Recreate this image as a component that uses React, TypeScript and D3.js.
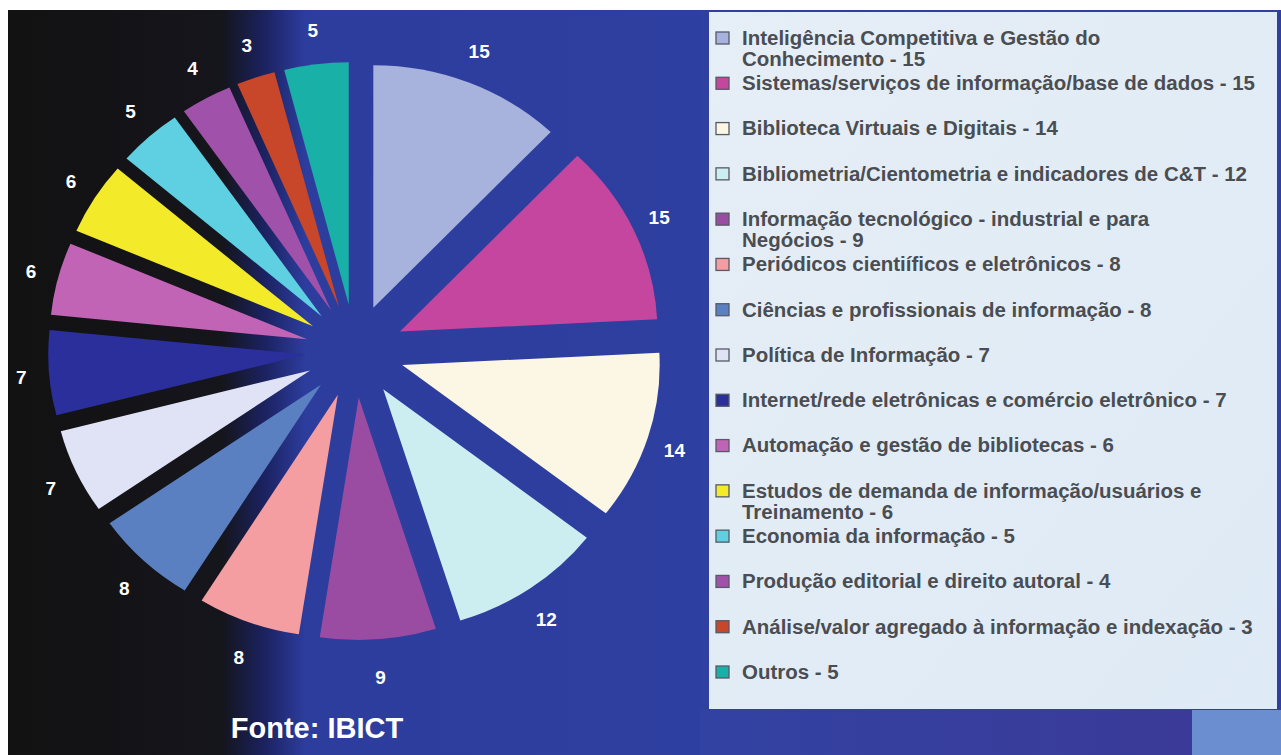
import React from "react";
import * as d3 from "d3";

const categories = [
  "Inteligência Competitiva e Gestão do Conhecimento",
  "Sistemas/serviços de informação/base de dados",
  "Biblioteca Virtuais e Digitais",
  "Bibliometria/Cientometria e indicadores de C&T",
  "Informação tecnológico - industrial e para Negócios",
  "Periódicos cientiíficos e eletrônicos",
  "Ciências e profissionais de informação",
  "Política de Informação",
  "Internet/rede eletrônicas e comércio eletrônico",
  "Automação e gestão de bibliotecas",
  "Estudos de demanda de informação/usuários e Treinamento",
  "Economia da informação",
  "Produção editorial e direito autoral",
  "Análise/valor agregado à informação e indexação",
  "Outros",
];
const values = [15, 15, 14, 12, 9, 8, 8, 7, 7, 6, 6, 5, 4, 3, 5];
// legend text lines (with explicit wraps as in the original)
const legendLines = [
  ["Inteligência Competitiva e Gestão do", "Conhecimento - 15"],
  ["Sistemas/serviços de informação/base de dados - 15"],
  ["Biblioteca Virtuais e Digitais - 14"],
  ["Bibliometria/Cientometria e indicadores de C&T - 12"],
  ["Informação tecnológico - industrial e para", "Negócios - 9"],
  ["Periódicos cientiíficos e eletrônicos - 8"],
  ["Ciências e profissionais de informação - 8"],
  ["Política de Informação - 7"],
  ["Internet/rede eletrônicas e comércio eletrônico - 7"],
  ["Automação e gestão de bibliotecas - 6"],
  ["Estudos de demanda de informação/usuários e", "Treinamento - 6"],
  ["Economia da informação - 5"],
  ["Produção editorial e direito autoral - 4"],
  ["Análise/valor agregado à informação e indexação - 3"],
  ["Outros - 5"],
];
const colors = [
  "#a7b2dd", "#c4469e", "#fbf7e4", "#cdeef0", "#9a4ca2",
  "#f59ea2", "#5a80c2", "#dfe3f5", "#2b2f9c", "#c264b6",
  "#f3ea2a", "#5ed0e2", "#a052aa", "#c8472a", "#19b0a8",
];
const source = "Fonte: IBICT";

export default function App() {
  const W = 1281, H = 755;
  const cx = 355, cy = 351, R = 250, explode = 48;
  const sx = 1.03, sy = 0.97;
  const labelCy = 353, labelR = 325;
  const pie = d3.pie<number>().sort(null).value((d) => d).startAngle(0).endAngle(2 * Math.PI);
  const arcs = pie(values);
  const arc = d3.arc<d3.PieArcDatum<number>>().innerRadius(0).outerRadius(R);
  const legendY = d3.scaleLinear().domain([0, 14]).range([38, 672]);
  const font = "'Liberation Sans', Arial, sans-serif";

  return (
    <svg width={W} height={H} style={{ position: "absolute", left: 0, top: 0, display: "block" }}>
      <defs>
        <linearGradient id="bgLeft" x1="0" y1="0" x2="1" y2="0" gradientUnits="objectBoundingBox">
          <stop offset="0" stopColor="#121212" />
          <stop offset="0.31" stopColor="#15151c" />
          <stop offset="0.37" stopColor="#1b2260" />
          <stop offset="0.43" stopColor="#2d3d9e" />
          <stop offset="1" stopColor="#2d3fa0" />
        </linearGradient>
        <linearGradient id="bgBottom" x1="0" y1="0" x2="1" y2="0">
          <stop offset="0" stopColor="#3242a2" />
          <stop offset="1" stopColor="#3b3a98" />
        </linearGradient>
        <linearGradient id="legendBg" x1="0" y1="0" x2="1" y2="1">
          <stop offset="0" stopColor="#e6eef6" />
          <stop offset="1" stopColor="#deeaf5" />
        </linearGradient>
      </defs>
      <rect x={0} y={0} width={W} height={H} fill="#ffffff" />
      <rect x={8} y={10} width={W - 8} height={H - 10} fill="#2d3fa0" />
      <rect x={8} y={10} width={692} height={H - 10} fill="url(#bgLeft)" />
      <rect x={700} y={10} width={W - 700} height={H - 10} fill="#2f40a0" />
      <rect x={700} y={710} width={492} height={45} fill="url(#bgBottom)" />
      <rect x={1192} y={710} width={89} height={45} fill="#6a8ecf" />

      <g transform={`translate(${cx},${cy}) scale(${sx},${sy})`}>
        {arcs.map((a, i) => {
          const mid = (a.startAngle + a.endAngle) / 2;
          const dx = Math.sin(mid) * explode;
          const dy = -Math.cos(mid) * explode;
          return (
            <path key={i} d={arc(a) || ""} transform={`translate(${dx},${dy})`} fill={colors[i]} />
          );
        })}
      </g>
      <g transform={`translate(${cx},${labelCy})`}>
        {arcs.map((a, i) => {
          const mid = (a.startAngle + a.endAngle) / 2;
          return (
            <text
              key={"l" + i}
              x={Math.sin(mid) * labelR * sx}
              y={-Math.cos(mid) * labelR}
              textAnchor="middle"
              dominantBaseline="central"
              fill="#ffffff"
              fontFamily={font}
              fontWeight="bold"
              fontSize={19}
            >
              {values[i]}
            </text>
          );
        })}
      </g>

      <text x={317} y={738} textAnchor="middle" fill="#ffffff" fontFamily={font} fontWeight="bold" fontSize={29}>
        {source}
      </text>

      <rect x={709} y={12} width={568} height={697} fill="url(#legendBg)" />
      {legendLines.map((lines, i) => {
        const y = legendY(i);
        return (
          <g key={"lg" + i}>
            <rect x={716} y={y - 6} width={13} height={12} fill={colors[i]} stroke="#555a66" strokeWidth={1.3} />
            {lines.map((ln, j) => (
              <text
                key={j}
                transform={`translate(742,${y + j * 21}) scale(1.05,1)`}
                dominantBaseline="central"
                fill="#4a4d52"
                fontFamily={font}
                fontWeight="bold"
                fontSize={19.5}
              >
                {ln}
              </text>
            ))}
          </g>
        );
      })}
    </svg>
  );
}
